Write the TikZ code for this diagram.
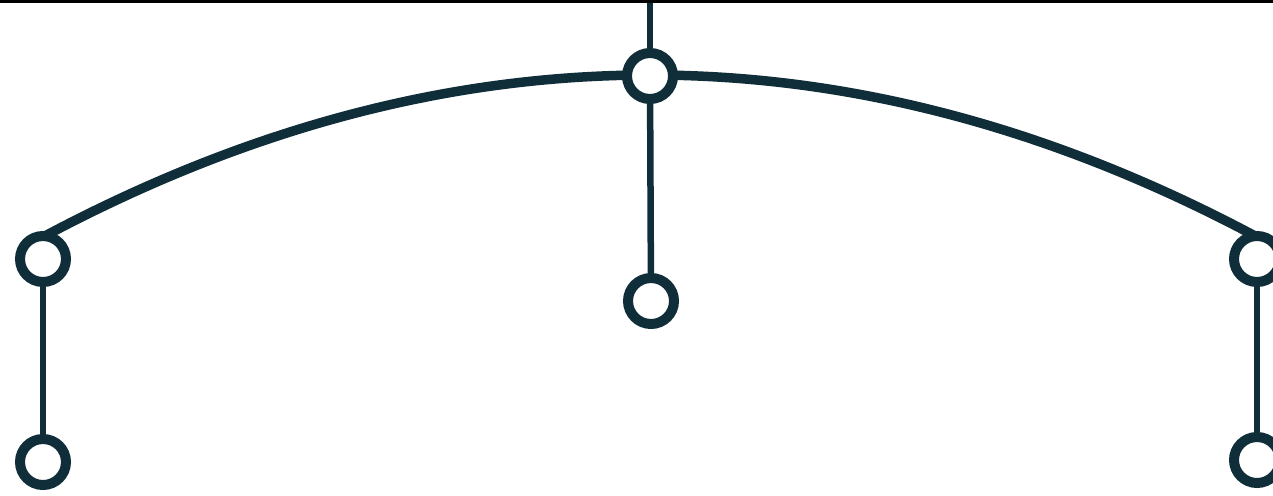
\documentclass[tikz,border=0pt]{standalone}
\usetikzlibrary{backgrounds}
\definecolor{ink}{RGB}{16,46,58}
\begin{document}
\begin{tikzpicture}[x=1pt,y=-1pt,
  ring/.style={circle,draw=ink,line width=10pt,fill=white,minimum size=46pt,inner sep=0pt},
  stem/.style={draw=ink,line width=6.5pt},
  bow/.style={draw=ink,line width=9.5pt}]
\useasboundingbox (0,0) rectangle (1273,495);
\clip (0,0) rectangle (1273,495);
\fill[black] (0,0) rectangle (1273,3);
\coordinate (top) at (650,0);
\node[ring] (T) at (650,76) {};
\node[ring] (C) at (651,301) {};
\node[ring] (L) at (43,259) {};
\node[ring] (BL) at (43,462) {};
\node[ring] (R) at (1257,259) {};
\node[ring] (BR) at (1257,460) {};
\begin{scope}[on background layer]
  \draw[stem] (top) -- (T.center);
  \draw[stem] (T.center) -- (C.center);
  \draw[stem] (L.center) -- (BL.center);
  \draw[stem] (R.center) -- (BR.center);
  \draw[bow] ([yshift=-6pt]L.north) .. controls (447.67,21) and (852.33,21) .. ([yshift=-6pt]R.north);
\end{scope}
\end{tikzpicture}
\end{document}
